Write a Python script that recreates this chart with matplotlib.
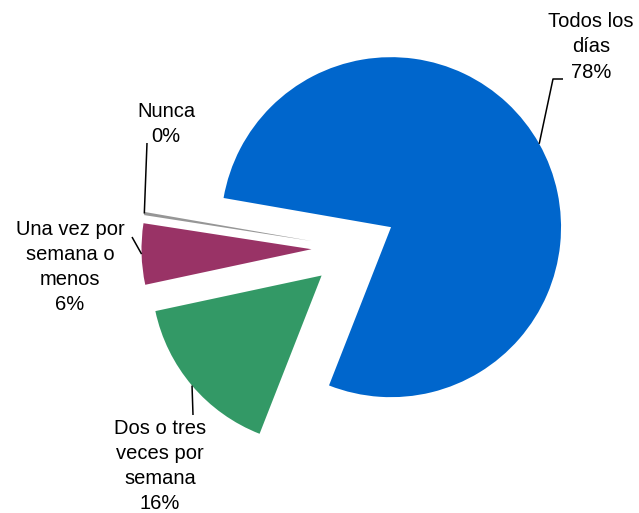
import numpy as np
import matplotlib
matplotlib.use('Agg')
from matplotlib import pyplot as plt

plt.rcParams['font.family'] = ['Liberation Sans', 'DejaVu Sans']

# frecuencia de consumo
labels = ['Todos los\ndías', 'Nunca', 'Una vez por\nsemana o\nmenos', 'Dos o tres\nveces por\nsemana']
values = [78.2, 0.3, 5.8, 15.7]
colors = ['#0066CC', '#969696', '#993366', '#339966']

W, H = 639, 513
R = 170
fig = plt.figure(figsize=(W / 100, H / 100), dpi=100)
ax = fig.add_axes([0, 0, 1, 1])

# explode is in data units when radius != 1
wedges, _ = ax.pie(values, colors=colors, startangle=248.6, counterclock=True,
                   explode=[0.25 * R] * len(values), center=(354, 265), radius=R,
                   wedgeprops=dict(linewidth=0))
ax.set_xlim(0, W)
ax.set_ylim(0, H)
ax.set_aspect('equal')
ax.axis('off')

# label position and leader bend point, in pixel coords (y down)
text_pos = [(591, 47), (166, 124), (70, 267), (160, 466)]
bend_pts = [[(553, 79), (563, 79)], [(147, 143)], [(132, 237)], [(193, 415)]]

for w, lab, v, tp, bends in zip(wedges, labels, values, text_pos, bend_pts):
    ang = np.deg2rad((w.theta1 + w.theta2) / 2)
    cx, cy = w.center
    ax_pt = (cx + w.r * np.cos(ang), cy + w.r * np.sin(ang))
    xs = [ax_pt[0]] + [b[0] for b in bends]
    ys = [ax_pt[1]] + [H - b[1] for b in bends]
    ax.plot(xs, ys, color='black', linewidth=1.1, solid_capstyle='butt')
    ax.text(tp[0], H - tp[1], f'{lab}\n{round(v):.0f}%', ha='center', va='center',
            fontsize=14.5, linespacing=1.42, color='black')

fig.savefig('out.png', dpi=100)
